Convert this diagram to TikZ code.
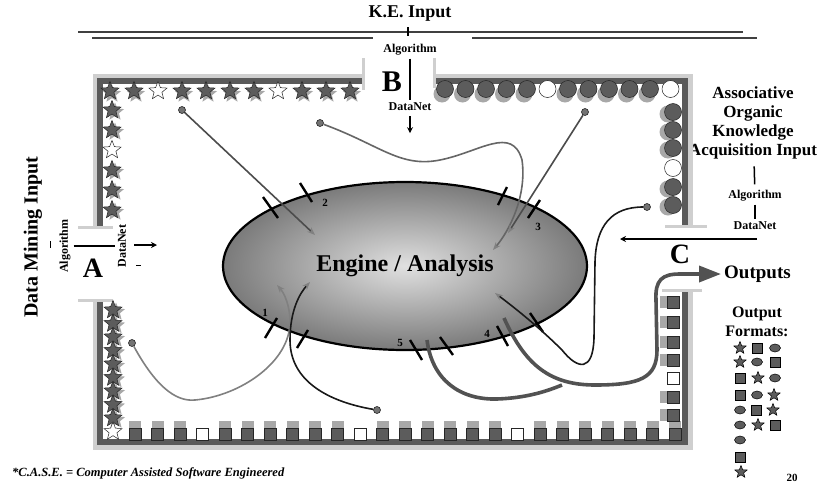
\documentclass[tikz,border=0pt]{standalone}
\usepackage{fontspec}
\setmainfont{Liberation Serif}
\usetikzlibrary{shapes.geometric,arrows.meta,positioning,calc}
\definecolor{framegray}{HTML}{5A5A5A}
\definecolor{halogray}{HTML}{CFCFCF}
\definecolor{shadegray}{HTML}{A8A8A8}
\definecolor{piecegray}{HTML}{5C5C5C}
\definecolor{wiregray}{HTML}{4C4C4C}

\tikzset{
  kstar/.style={star, star points=5, star point ratio=2.3, minimum size=19pt, inner sep=0pt, fill=piecegray, draw=black!85, line width=0.5pt},
  kstarw/.style={kstar, fill=white},
  kstarsh/.style={kstar, fill=shadegray, draw=none},
  kdisc/.style={circle, minimum size=17pt, inner sep=0pt, fill=piecegray, draw=black!85, line width=0.5pt},
  kdiscw/.style={kdisc, fill=white},
  kdiscsh/.style={kdisc, fill=shadegray, draw=none},
  kbox/.style={rectangle, minimum size=12pt, inner sep=0pt, fill=piecegray, draw=black!85, line width=0.5pt},
  kboxw/.style={kbox, fill=white},
  kboxsh/.style={kbox, fill=shadegray, draw=none},
  % output format symbols
  fstar/.style={star, star points=5, star point ratio=2.3, minimum size=13pt, inner sep=0pt, fill=piecegray, draw=black, line width=0.5pt},
  fsq/.style={rectangle, minimum size=10pt, inner sep=0pt, fill=piecegray, draw=black, line width=0.5pt},
  fdot/.style={ellipse, minimum width=11pt, minimum height=8pt, inner sep=0pt, fill=piecegray, draw=black, line width=0.5pt},
}

\begin{document}
\begin{tikzpicture}[x=1pt,y=-1pt,
  smalllbl/.style={font=\bfseries\fontsize{12}{13}\selectfont, inner sep=3pt},
  hdr/.style={font=\bfseries\fontsize{17}{19}\selectfont, align=center, inner sep=2pt},
  bigltr/.style={font=\bfseries\fontsize{28}{30}\selectfont, inner sep=0pt},
  num/.style={font=\bfseries\fontsize{11}{12}\selectfont, inner sep=0pt},
  rule/.style={draw=black!75, line width=1.8pt},
  band/.style={draw=framegray, line width=6pt},
  halo/.style={draw=halogray, line width=5pt},
  endcap/.style={draw=halogray, line width=3pt},
  port/.style={draw=black, line width=2.4pt},
  dotend/.style={circle, minimum size=7pt, inner sep=0pt, fill=black!55, draw=black!85, line width=0.6pt},
  link/.style={draw=wiregray, line width=1.6pt, -{Stealth[length=8pt,width=6pt,color=black!50]}},
  lightlink/.style={link, draw=black!50},
  darklink/.style={link, draw=black!90},
  outflow/.style={draw=black!68, line width=3.6pt},
  small arrow/.style={line width=1.3pt, -{Stealth[length=6pt,width=6pt]}}]

\useasboundingbox (0,0) rectangle (825,485);
\fill[white] (0,0) rectangle (825,485);

% K.E. input
\node[font=\bfseries\fontsize{18}{20}\selectfont] (ke) at (410,14) {K.E. Input};
\draw[rule] (78,32) -- (743,32);
\draw[rule] (92,38) -- (373,38);
\draw[rule] (472,38) -- (757,38);
\draw[line width=1.2pt] (408,27) -- (408,36);
\node[smalllbl] (algB) at (410,50) {Algorithm};
\node[smalllbl] (dnB) at (410,107) {DataNet};
\draw[line width=1.5pt] (algB) -- (dnB);
\node[bigltr, font=\bfseries\fontsize{30}{32}\selectfont] (ltrB) at (392,82) {B};
\draw[small arrow] ($(dnB.south)+(0,2)$) -- ++(0,17);

% data mining input
\node[font=\bfseries\fontsize{20}{22}\selectfont, rotate=90] (dmi) at (33,237) {Data Mining Input};
\node[smalllbl, rotate=90] (algA) at (65,246) {Algorithm};
\node[smalllbl, rotate=90] (dnA) at (122,246) {DataNet};
\draw[line width=1.5pt] (algA) -- (dnA);
\draw[line width=1pt] (50,241) -- (50,248);
\draw[line width=1pt] (136,265) -- (141,265);
\node[bigltr] (ltrA) at (93,268) {A};
\draw[small arrow] (134,245) -- (157,245);

% associative organic input
\node[hdr] (akq) at (753,123) {Associative\\Organic\\Knowledge\\Acquisition Input};
\node[smalllbl] (algC) at (755,196) {Algorithm};
\node[smalllbl] (dnC) at (755,226) {DataNet};
\draw[line width=1.5pt, shorten <=5pt, shorten >=3pt] (akq) -- (algC);
\draw[line width=1.5pt] (algC) -- (dnC);
\coordinate (cin) at (757,239);
\coordinate (cout) at (620,239);
\draw[small arrow] (cin) -- (cout);
\node[bigltr] (ltrC) at (680,254) {C};

% frame
\draw[halo] (95,226) -- (95,76) -- (363,76);
\draw[halo] (434,76) -- (690,76) -- (690,226);
\draw[halo] (95,300) -- (95,447) -- (690,447) -- (690,290);
\draw[band] (100,226) -- (100,81) -- (363,81);
\draw[band] (434,81) -- (685,81) -- (685,226);
\draw[band] (100,300) -- (100,442) -- (685,442) -- (685,290);
\draw[endcap] (363,58) -- (363,90);
\draw[endcap] (434,58) -- (434,88);
\draw[endcap] (78,227) -- (113,227);
\draw[endcap] (78,300) -- (113,300);
\draw[endcap] (665,226) -- (707,226);
\draw[endcap] (662,290) -- (702,290);

% stars
\foreach \x in {110,134,182,206,230,254,302,326,350} \node[kstarsh] at (\x+2,94) {};
\foreach \y in {110,130,170,190,210} \node[kstarsh] at (115,\y+2) {};
\foreach \y in {310,323.5,337,350.5,364,377.5,391,404.5,418} \node[kstarsh] at (116,\y+2) {};
\foreach \x in {110,134,182,206,230,254,302,326,350} \node[kstar] at (\x,91) {};
\foreach \x in {158,278} \node[kstarw] at (\x,91) {};
\foreach \y in {110,130,170,190,210} \node[kstar] at (112,\y) {};
\node[kstarw] at (112,150) {};
\foreach \y in {310,323.5,337,350.5,364,377.5,391,404.5,418} \node[kstar] at (113,\y) {};
\node[kstarw] at (113,431.5) {};

% circles
\foreach \x in {445,465.5,486,506.5,527,568,588.5,609,629.5,650} \node[kdiscsh] at (\x-3,94) {};
\foreach \y in {112,130,148,187,205} \node[kdiscsh] at (668,\y+2) {};
\foreach \x in {445,465.5,486,506.5,527,568,588.5,609,629.5,650} \node[kdisc] at (\x,89) {};
\foreach \x in {547.5,670.5} \node[kdiscw] at (\x,89) {};
\foreach \y in {112,130,148,187,205} \node[kdisc] at (673,\y) {};
\node[kdiscw] at (673,168) {};

% squares
\foreach \k in {0,1,2,4,5,6,7,8,9,11,12,13,14,15,16,18,19,20,21,22,23,24} \node[kboxsh] at (135+22.5*\k,427) {};
\foreach \y in {302,322,342,360,397,415} \node[kboxsh] at (666,\y) {};
\foreach \k in {0,1,2,4,5,6,7,8,9,11,12,13,14,15,16,18,19,20,21,22,23,24} \node[kbox] at (135+22.5*\k,434) {};
\foreach \k in {3,10,17} \node[kboxw] at (135+22.5*\k,434) {};
\foreach \y in {302,322,342,360,397,415} \node[kbox] at (673,\y) {};
\node[kboxw] at (673,378) {};

% engine
\node[ellipse, draw=black, line width=2.2pt, minimum width=364pt, minimum height=168pt,
  inner color=black!12, outer color=black!52, font=\bfseries\fontsize{24}{26}\selectfont] (eng) at (405,266) {Engine / Analysis};
\foreach \xa/\ya/\xb/\yb in {263/197/278/218, 300/183/312/202, 507/187/498/205, 540/200/528/218,
  530/313/543/332, 497/326/508/346, 440/337/453/355, 410/340/422/360, 277/318/265/338, 308/330/297/348}
  \draw[port] (\xa,\ya) -- (\xb,\yb);
\node[num] (n1) at (265,313) {1};
\node[num] (n2) at (325,203) {2};
\node[num] (n3) at (538,227) {3};
\node[num] (n4) at (487,334) {4};
\node[num] (n5) at (400,343) {5};

% connectors into the engine
\node[dotend] (s1) at (182,110) {};
\coordinate (t1) at (315,235);
\draw[link] (s1) -- (t1);
\node[dotend] (s2) at (320,123) {};
\coordinate (t2) at (493,250);
\draw[link, draw=black!60] (s2) .. controls (380,145) and (400,168) .. (440,160) .. controls (480,152) and (512,125) .. (522,160) .. controls (527,195) and (510,230) .. (t2);
\node[dotend] (s3) at (585,112) {};
\coordinate (t3) at (508,233);
\draw[link] (s3) -- (t3);
\node[dotend] (s4) at (647,207) {};
\coordinate (t4) at (495,293);
\draw[darklink] (s4) .. controls (612,207) and (596,225) .. (595,262) -- (594,338) .. controls (593,372) and (578,370) .. (562,350) .. controls (540,328) and (515,308) .. (t4);
\node[dotend] (s5) at (132,343) {};
\coordinate (t5) at (277,285);
\draw[lightlink] (s5) .. controls (155,385) and (175,402) .. (195,400) .. controls (240,396) and (290,362) .. (290,322) .. controls (290,305) and (284,293) .. (t5);
\node[dotend] (s6) at (377,410) {};
\coordinate (t6) at (310,282);
\draw[darklink] (s6) .. controls (330,402) and (290,382) .. (290,340) .. controls (290,310) and (300,293) .. (t6);

% outputs
\node[font=\bfseries\fontsize{19}{21}\selectfont, anchor=west, inner sep=0pt] (outp) at (724,274) {Outputs};
\coordinate (o5) at (427,340);
\coordinate (o4) at (504,318);
\draw[outflow] (o5) .. controls (432,380) and (460,400) .. (497,399) .. controls (525,398) and (545,392) .. (562,385);
\draw[outflow, -{Triangle[length=22pt,width=16pt]}, shorten >=3pt] (o4) .. controls (525,365) and (550,385) .. (595,385) .. controls (640,385) and (657,378) .. (657,350) -- (656,300) .. controls (655,280) and (662,274) .. (680,274) -- (outp.west);

\node[hdr, font=\bfseries\fontsize{16}{19}\selectfont] (ofmt) at (757,322) {Output\\Formats:};
\foreach \x/\y/\s in {740/348/fstar, 757/348/fsq, 775/348/fdot,
  740/362/fstar, 757/362/fdot, 775/362/fsq,
  740/378/fsq, 758/378/fstar, 775/378/fdot,
  740/395/fsq, 757/395/fdot, 774/395/fstar,
  740/410/fdot, 756/410/fsq, 773/410/fstar,
  740/425/fdot, 758/425/fstar, 775/425/fsq,
  740/440/fdot, 740/457/fsq, 741/472/fstar}
  \node[\s] at (\x,\y) {};
\node[num] (pg) at (792,478) {20};

\node[font=\bfseries\itshape\fontsize{12.5}{13}\selectfont, anchor=west, inner sep=0pt] (note) at (12,473) {*C.A.S.E. = Computer Assisted Software Engineered};
\end{tikzpicture}
\end{document}
